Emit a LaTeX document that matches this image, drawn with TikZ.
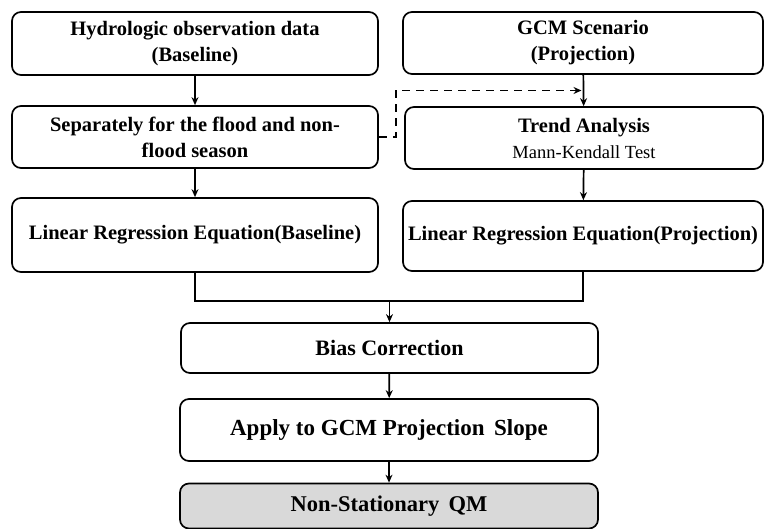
\documentclass[tikz,border=0pt]{standalone}
\usepackage{fontspec}
\setmainfont{Liberation Serif}
\usetikzlibrary{arrows.meta,calc}
\begin{document}
\begin{tikzpicture}[x=1pt,y=-1pt,
  box/.style={draw=black,line width=1.7pt,rounded corners=9pt,align=center,inner sep=0pt,
    font=\fontsize{20.5}{26}\selectfont\bfseries},
  conn/.style={line width=1.7pt,-{Stealth[length=8pt,width=7pt]}},
  plain/.style={line width=1.7pt}]
\useasboundingbox (0,0) rectangle (764,529);
\node[box,minimum width=366pt,minimum height=63pt] (hyd) at (195,43.5) {Hydrologic observation data\\(Baseline)};
\node[box,minimum width=360pt,minimum height=62pt] (gcm) at (583,43) {GCM Scenario\\(Projection)};
\node[box,minimum width=366pt,minimum height=62pt] (sep) at (195,137) {Separately for the flood and non-\\flood season};
\node[box,minimum width=358pt,minimum height=62pt] (trend) at (584,138) {Trend Analysis\\{\fontsize{18.5}{26}\selectfont\mdseries Mann-Kendall Test}};
\node[box,minimum width=366pt,minimum height=74pt] (lrb) at (195,235) {Linear Regression Equation(Baseline)};
\node[box,minimum width=360pt,minimum height=70pt] (lrp) at (583,236) {Linear Regression Equation(Projection)};
\node[box,minimum width=417pt,minimum height=50pt,font=\fontsize{22}{26}\selectfont\bfseries] (bias) at (389.5,348) {Bias Correction};
\node[box,minimum width=418pt,minimum height=62pt,font=\fontsize{23}{26}\selectfont\bfseries] (apply) at (389,430) {Apply to GCM Projection\, Slope};
\node[box,fill={rgb,255:red,217;green,217;blue,217},minimum width=418pt,minimum height=45pt,font=\fontsize{22.5}{26}\selectfont\bfseries] (qm) at (389,506) {Non-Stationary\, QM};
\draw[conn] (hyd) -- (sep);
\draw[conn] (sep) -- (lrb);
\draw[conn] (gcm) -- (trend);
\draw[conn] (trend) -- (lrp);
\coordinate (mid) at ($(gcm.south)!0.5!(trend.north)$);
\coordinate (dl) at ($(sep.east)+(17,0)$);
\draw[line width=1.7pt,dashed,dash pattern=on 8pt off 6pt,-{Stealth[length=8pt,width=7pt]},shorten >=2pt]
  (sep.east) -- (dl) |- (mid);
\coordinate (join) at ($(lrb.south)+(0,28)$);
\draw[plain] (lrb.south) -- (join) -| (lrp.south);
\draw[conn] (join -| bias.north) -- (bias.north);
\draw[conn] (bias) -- (apply);
\draw[conn] (apply) -- (qm);
\end{tikzpicture}
\end{document}
